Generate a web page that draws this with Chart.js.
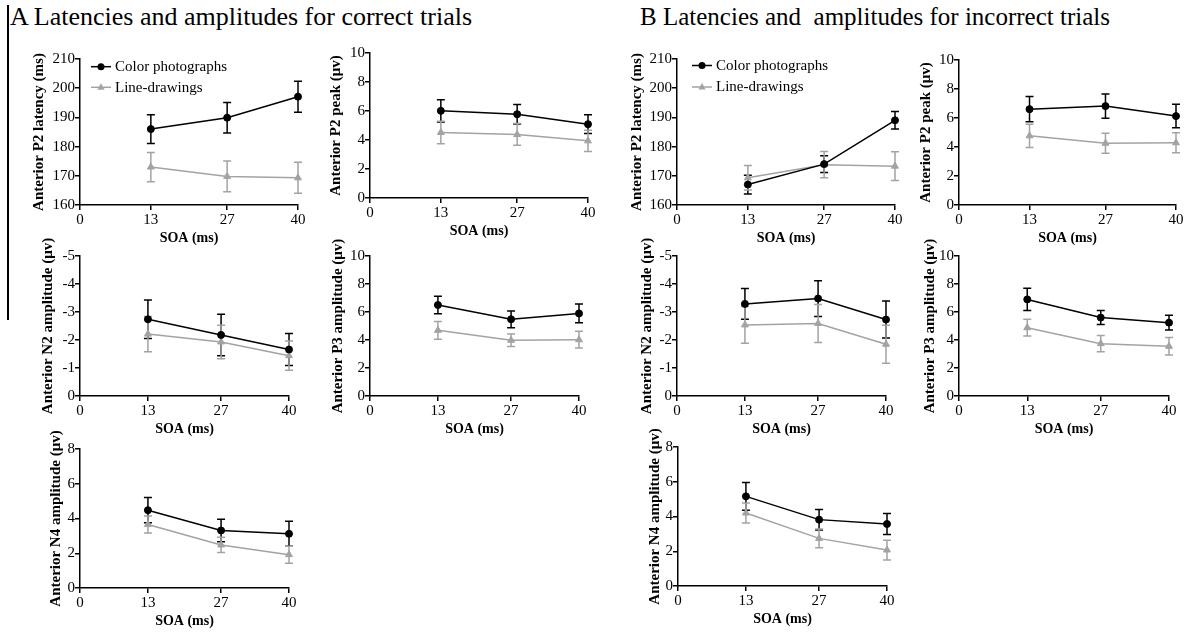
<!DOCTYPE html>
<html><head><meta charset="utf-8">
<script src="https://cdn.jsdelivr.net/npm/chart.js@4"></script>
<style>
body{margin:0;background:#fff;width:1192px;height:633px;overflow:hidden;position:relative;font-family:"Liberation Serif",serif;}
canvas{position:absolute;}
.ttl{position:absolute;font-size:25px;white-space:pre;color:#000;line-height:30px;}
</style></head><body>
<div class="ttl" style="left:10px;top:2px;font-size:26px">A Latencies and amplitudes for correct trials</div>
<div class="ttl" style="left:640px;top:2px">B Latencies and  amplitudes for incorrect trials</div>
<div style="position:absolute;left:7px;top:5px;width:1.5px;height:315px;background:#000"></div>
<div id="wrap"></div>
<script>
// ---------- data ----------
const soa = [13, 27, 40];
const xTickValues = [0, 13, 27, 40];
const seriesNames = ['Color photographs', 'Line-drawings'];

const latencyTicks = [160, 170, 180, 190, 200, 210];
const peakTicks = [0, 2, 4, 6, 8, 10];
const n2Ticks = [-5, -4, -3, -2, -1, 0];
const p3Ticks = [0, 2, 4, 6, 8, 10];
const n4Ticks = [0, 2, 4, 6, 8];

// A: correct trials (means and error bars)
const aP2LatColor = [186.0, 189.9, 197.1];
const aP2LatColorErr = [4.9, 5.2, 5.3];
const aP2LatLine = [173.0, 169.8, 169.3];
const aP2LatLineErr = [5.0, 5.3, 5.3];
const aP2PeakColor = [6.01, 5.78, 5.09];
const aP2PeakColorErr = [0.76, 0.67, 0.65];
const aP2PeakLine = [4.52, 4.38, 3.94];
const aP2PeakLineErr = [0.77, 0.75, 0.73];
const aN2Color = [-2.74, -2.18, -1.66];
const aN2ColorErr = [0.69, 0.74, 0.57];
const aN2Line = [-2.21, -1.93, -1.44];
const aN2LineErr = [0.63, 0.60, 0.52];
const aP3Color = [6.50, 5.48, 5.90];
const aP3ColorErr = [0.62, 0.60, 0.67];
const aP3Line = [4.69, 3.98, 4.02];
const aP3LineErr = [0.64, 0.45, 0.60];
const aN4Color = [4.48, 3.31, 3.12];
const aN4ColorErr = [0.73, 0.65, 0.72];
const aN4Line = [3.65, 2.48, 1.92];
const aN4LineErr = [0.49, 0.44, 0.49];

// B: incorrect trials
const bP2LatColor = [167.0, 174.0, 189.0];
const bP2LatColorErr = [3.2, 2.9, 3.0];
const bP2LatLine = [169.3, 173.8, 173.3];
const bP2LatLineErr = [4.2, 4.5, 4.9];
const bP2PeakColor = [6.61, 6.82, 6.13];
const bP2PeakColorErr = [0.87, 0.84, 0.81];
const bP2PeakLine = [4.77, 4.26, 4.29];
const bP2PeakLineErr = [0.80, 0.69, 0.69];
const bN2Color = [-3.29, -3.48, -2.73];
const bN2ColorErr = [0.55, 0.64, 0.66];
const bN2Line = [-2.54, -2.59, -1.85];
const bN2LineErr = [0.66, 0.68, 0.68];
const bP3Color = [6.90, 5.60, 5.24];
const bP3ColorErr = [0.80, 0.50, 0.52];
const bP3Line = [4.88, 3.74, 3.55];
const bP3LineErr = [0.60, 0.58, 0.62];
const bN4Color = [5.16, 3.82, 3.57];
const bN4ColorErr = [0.80, 0.59, 0.60];
const bN4Line = [4.20, 2.74, 2.07];
const bN4LineErr = [0.57, 0.54, 0.57];

// ---------- layout (pixel geometry of each panel) ----------
const panels = [
  {ax:80,  x40:298,  top:59,  bot:205, tOff:41, title:'Anterior P2 latency (ms)',   ticks:latencyTicks, rev:false, c:aP2LatColor, ce:aP2LatColorErr, l:aP2LatLine, le:aP2LatLineErr, legend:{dx:11, dy:7.7, gap:20.6}},
  {ax:370, x40:588,  top:53,  bot:198, tOff:34, title:'Anterior P2 peak (\u03bcv)',     ticks:peakTicks, rev:false, c:aP2PeakColor, ce:aP2PeakColorErr, l:aP2PeakLine, le:aP2PeakLineErr},
  {ax:677, x40:895,  top:59,  bot:205, tOff:40, title:'Anterior P2 latency (ms)',   ticks:latencyTicks, rev:false, c:bP2LatColor, ce:bP2LatColorErr, l:bP2LatLine, le:bP2LatLineErr, legend:{dx:15, dy:6.5, gap:21.5}},
  {ax:959, x40:1176, top:60,  bot:205, tOff:33, title:'Anterior P2 peak (\u03bcv)',     ticks:peakTicks, rev:false, c:bP2PeakColor, ce:bP2PeakColorErr, l:bP2PeakLine, le:bP2PeakLineErr},
  {ax:80,  x40:289,  top:256, bot:396, tOff:32, title:'Anterior N2 amplitude (\u03bcv)', ticks:n2Ticks, rev:true, c:aN2Color, ce:aN2ColorErr, l:aN2Line, le:aN2LineErr},
  {ax:370, x40:579,  top:256, bot:396, tOff:32, title:'Anterior P3 amplitude (\u03bcv)', ticks:p3Ticks, rev:false, c:aP3Color, ce:aP3ColorErr, l:aP3Line, le:aP3LineErr},
  {ax:677, x40:886,  top:256, bot:396, tOff:30, title:'Anterior N2 amplitude (\u03bcv)', ticks:n2Ticks, rev:true, c:bN2Color, ce:bN2ColorErr, l:bN2Line, le:bN2LineErr},
  {ax:959, x40:1169, top:256, bot:396, tOff:29, title:'Anterior P3 amplitude (\u03bcv)', ticks:p3Ticks, rev:false, c:bP3Color, ce:bP3ColorErr, l:bP3Line, le:bP3LineErr},
  {ax:80,  x40:289,  top:449, bot:588, tOff:24, title:'Anterior N4 amplitude (\u03bcv)', ticks:n4Ticks, rev:false, c:aN4Color, ce:aN4ColorErr, l:aN4Line, le:aN4LineErr},
  {ax:678, x40:887,  top:447, bot:586, tOff:23, title:'Anterior N4 amplitude (\u03bcv)', ticks:n4Ticks, rev:false, c:bN4Color, ce:bN4ColorErr, l:bN4Line, le:bN4LineErr}
];

const BLACK = '#000000';
const GRAY = '#a3a3a3';
const PAD_TOP = 30, PAD_RIGHT = 16, X_H = 42, TITLE_LH = 9;

Chart.defaults.font.family = '"Liberation Serif", "Times New Roman", serif';
Chart.defaults.color = '#000';

const errorBars = {
  id: 'errorBars',
  beforeDatasetsDraw(chart) {
    const {ctx, scales: {x, y}} = chart;
    chart.data.datasets.forEach(ds => {
      const errs = ds.errors;
      if (!errs) return;
      ctx.save();
      ctx.strokeStyle = ds.borderColor;
      ctx.lineWidth = 1.5;
      ds.data.forEach((pt, j) => {
        const px = x.getPixelForValue(pt.x);
        const y1 = y.getPixelForValue(pt.y + errs[j]);
        const y2 = y.getPixelForValue(pt.y - errs[j]);
        ctx.beginPath();
        ctx.moveTo(px, y1); ctx.lineTo(px, y2);
        ctx.moveTo(px - 4, y1); ctx.lineTo(px + 4, y1);
        ctx.moveTo(px - 4, y2); ctx.lineTo(px + 4, y2);
        ctx.stroke();
      });
      ctx.restore();
    });
  }
};

const inLegend = {
  id: 'inLegend',
  afterDraw(chart, args, opts) {
    if (!opts || !opts.show) return;
    const {ctx, chartArea} = chart;
    ctx.save();
    ctx.font = '15px "Liberation Serif", serif';
    ctx.textBaseline = 'middle';
    chart.data.datasets.forEach((ds, i) => {
      const x0 = chartArea.left + opts.dx;
      const yy = chartArea.top + opts.dy + i * opts.gap;
      ctx.strokeStyle = ds.borderColor;
      ctx.fillStyle = ds.backgroundColor;
      ctx.lineWidth = 1.5;
      ctx.beginPath(); ctx.moveTo(x0, yy); ctx.lineTo(x0 + 20, yy); ctx.stroke();
      const cx = x0 + 10, r = ds.pointRadius;
      ctx.beginPath();
      if (ds.pointStyle === 'triangle') {
        ctx.moveTo(cx, yy - r); ctx.lineTo(cx + r * 0.9, yy + r * 0.6); ctx.lineTo(cx - r * 0.9, yy + r * 0.6); ctx.closePath();
      } else {
        ctx.arc(cx, yy, r, 0, Math.PI * 2);
      }
      ctx.fill();
      ctx.fillStyle = '#000';
      ctx.fillText(ds.label, x0 + 24, yy + 0.5);
    });
    ctx.restore();
  }
};

const wrap = document.getElementById('wrap');

panels.forEach(p => {
  const yW = p.tOff + TITLE_LH;
  const cv = document.createElement('canvas');
  const w = yW + (p.x40 - p.ax) + PAD_RIGHT;
  const h = PAD_TOP + (p.bot - p.top) + X_H;
  cv.width = w; cv.height = h;
  cv.style.left = (p.ax - yW) + 'px';
  cv.style.top = (p.top - PAD_TOP) + 'px';
  cv.style.width = w + 'px'; cv.style.height = h + 'px';
  wrap.appendChild(cv);

  const mk = (arr) => soa.map((x, i) => ({x, y: arr[i]}));
  new Chart(cv, {
    type: 'line',
    data: {
      datasets: [
        {label: seriesNames[0], data: mk(p.c), errors: p.ce, borderColor: BLACK, backgroundColor: BLACK,
         pointStyle: 'circle', pointRadius: 3.5, pointBorderWidth: 1, borderWidth: 1.5, tension: 0, fill: false, clip: false},
        {label: seriesNames[1], data: mk(p.l), errors: p.le, borderColor: GRAY, backgroundColor: GRAY,
         pointStyle: 'triangle', pointRadius: 4, pointBorderWidth: 1, borderWidth: 1.5, tension: 0, fill: false, clip: false}
      ]
    },
    options: {
      responsive: false,
      animation: false,
      devicePixelRatio: 1,
      layout: {padding: {top: PAD_TOP, right: PAD_RIGHT, bottom: 0, left: 0}},
      plugins: {
        legend: {display: false},
        tooltip: {enabled: false},
        inLegend: p.legend ? Object.assign({show: true}, p.legend) : {show: false}
      },
      scales: {
        x: {
          type: 'linear', min: 0, max: 40,
          afterBuildTicks: s => { s.ticks = xTickValues.map(v => ({value: v})); },
          afterFit: s => { s.height = X_H; },
          ticks: {font: {size: 15}, color: '#000', padding: 1, maxRotation: 0, autoSkip: false, callback: v => String(v)},
          grid: {drawOnChartArea: false, drawTicks: true, tickLength: 5, color: '#000', lineWidth: 1.5},
          border: {display: true, color: '#000', width: 1.5},
          title: {display: true, text: 'SOA (ms)', font: {size: 14, weight: 'bold'}, color: '#000', padding: 0}
        },
        y: {
          type: 'linear', min: p.ticks[0], max: p.ticks[p.ticks.length - 1], reverse: p.rev,
          afterBuildTicks: s => { s.ticks = p.ticks.map(v => ({value: v})); },
          afterFit: s => { s.width = yW; },
          ticks: {font: {size: 15}, color: '#000', padding: 0, autoSkip: false, callback: v => String(v)},
          grid: {drawOnChartArea: false, drawTicks: true, tickLength: 5, color: '#000', lineWidth: 1.5},
          border: {display: true, color: '#000', width: 1.5},
          title: {display: true, text: p.title, font: {size: 15, weight: 'bold'}, color: '#000', padding: 0}
        }
      }
    },
    plugins: [errorBars, inLegend]
  });
});
</script>
</body></html>
